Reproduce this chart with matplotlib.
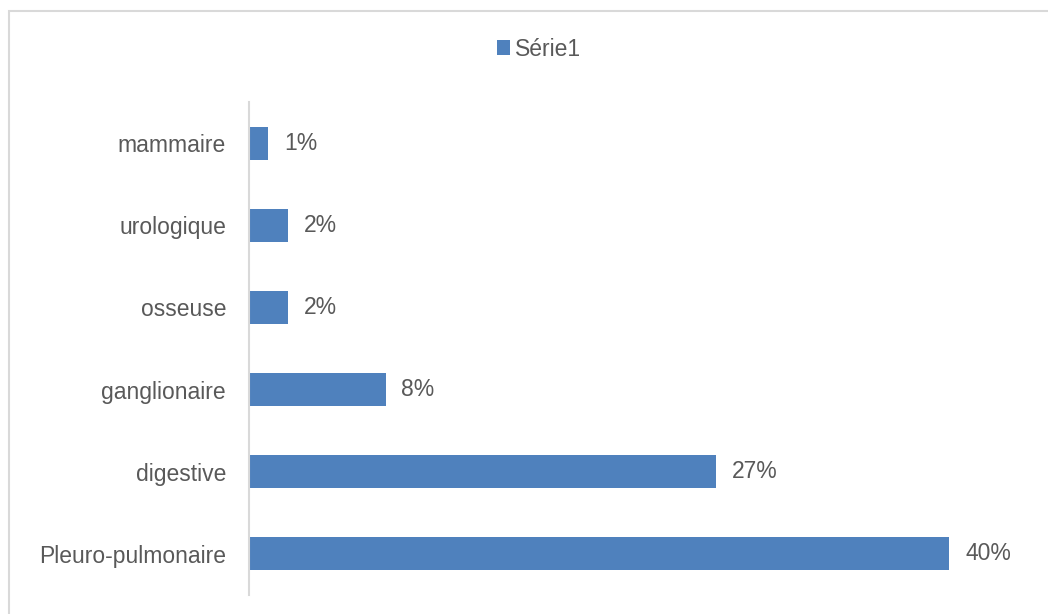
import matplotlib.pyplot as plt
from matplotlib.patches import Rectangle

# data (percent)
categories = ['Pleuro-pulmonaire', 'digestive', 'ganglionaire', 'osseuse', 'urologique', 'mammaire']
values = [40.0, 26.7, 7.8, 2.2, 2.2, 1.1]
labels = ['40%', '27%', '8%', '2%', '2%', '1%']
series_name = 'Série1'

W, H = 1048, 614
fig = plt.figure(figsize=(W / 100, H / 100), dpi=100)
plt.rcParams['font.family'] = ['Liberation Sans', 'DejaVu Sans']
fs = 16.5
txt = '#595959'

# light grey chart border (right and bottom edges fall outside the picture)
fig.patches.append(Rectangle((9 / W, -0.1), 1.2, 1.1 - 11 / H, transform=fig.transFigure,
                             fill=False, edgecolor='#d9d9d9', linewidth=1.5))

x0, x1 = 249, 249 + 45 * 17.5
y_top, y_bot = 102, 595
ax = fig.add_axes([x0 / W, 1 - y_bot / H, (x1 - x0) / W, (y_bot - y_top) / H])

bars = ax.barh(range(len(categories)), values, height=0.4, color='#4f81bd', label=series_name)
ax.set_xlim(0, 45)
ax.set_ylim(-0.5, len(categories) - 0.5)
ax.set_yticks(range(len(categories)))
ax.set_yticklabels(categories, fontsize=fs, color=txt)
ax.tick_params(axis='y', length=0, pad=16.5)
ax.set_xticks([])
for s in ['top', 'right', 'bottom']:
    ax.spines[s].set_visible(False)
ax.spines['left'].set_color('#d9d9d9')
ax.spines['left'].set_linewidth(1.5)

for b, lab in zip(bars, labels):
    ax.annotate(lab, (b.get_width(), b.get_y() + b.get_height() / 2),
                xytext=(16, 0), textcoords='offset pixels', va='center', ha='left',
                fontsize=fs, color=txt)

fig.legend(handles=[bars], labels=[series_name], loc='center', bbox_to_anchor=(539 / W, 1 - 49 / H),
           frameon=False, fontsize=fs, handlelength=0.58, handleheight=0.58, handletextpad=0.2,
           labelcolor=txt)

fig.savefig('out.png', dpi=100)
